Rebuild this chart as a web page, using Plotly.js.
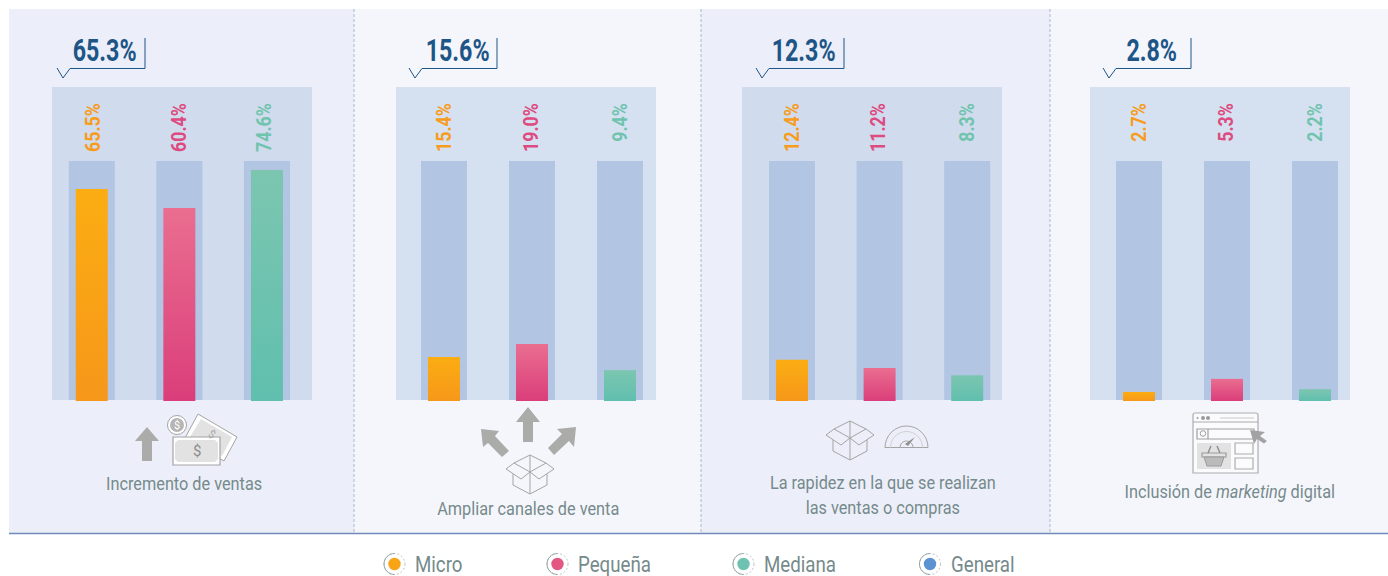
<!DOCTYPE html>
<html><head><meta charset="utf-8">
<script src="https://cdn.plot.ly/plotly-3.0.1.min.js"></script>
<style>html,body{margin:0;padding:0;background:#fff;overflow:hidden}#c{width:1388px;height:576px}</style>
</head><body><div id="c"></div>
<script>
// ---------- data ----------
const segments = ['Micro','Pequeña','Mediana'];
const generalLabels = ['65.3%','15.6%','12.3%','2.8%'];
const printedLabels = [
  ['65.5%','60.4%','74.6%'],
  ['15.4%','19.0%','9.4%'],
  ['12.4%','11.2%','8.3%'],
  ['2.7%','5.3%','2.2%']
];
// bar lengths (the drawn bars are not strictly proportional to their printed labels)
const barLengths1 = [68.0, 61.9, 74.1];
const barLengths2 = [14.1, 18.3, 9.9];
const barLengths3 = [13.2, 10.6, 8.3];
const barLengths4 = [2.9, 7.1, 3.8];
const fullBar = [77, 77, 77];
const categoryNames = ['Incremento de ventas','Ampliar canales de venta','La rapidez en la que se realizan<br>las ventas o compras','Inclusión de <i>marketing</i> digital'];
const legendNames = ['Micro','Pequeña','Mediana','General'];

// ---------- layout constants (pixels) ----------
const W=1388,H=576;
const px=x=>x/W, py=y=>1-y/H;
const colors=['#f9a415','#e25883','#6ec2af'];
const textColors=['#f79c1d','#dd4b80','#70c4ae'];
const grey='#758a8b', navy='#1d5587', icon='#abaca9', line='#a4a4a4';
const panels=[
 {x0:9,x1:354,bg:'#eceff9',rect:[52,312],rectc:'#d0dbed',c0:91.75,step:87.6,lab:[93,179,264],tail:57,right:145,tx:105},
 {x0:354,x1:701,bg:'#f5f6fc',rect:[396,656],rectc:'#d5e1f1',c0:444,step:88,lab:[444,531,620],tail:409,right:497,tx:457},
 {x0:701,x1:1050,bg:'#eceff9',rect:[742,1002],rectc:'#d0dbed',c0:792,step:87.6,lab:[792,878,967],tail:756,right:844,tx:803.5},
 {x0:1050,x1:1388,bg:'#f5f6fc',rect:[1090,1350],rectc:'#d5e1f1',c0:1139,step:88,lab:[1139,1226,1315],tail:1103,right:1191,tx:1151}
];
const lengths=[barLengths1,barLengths2,barLengths3,barLengths4];
const Y0=401, YTOP=161;

// convert a pixel path (absolute M/L/C/Q/Z) to paper coords
function P(d){return d.replace(/(-?[\d.]+)[ ,](-?[\d.]+)/g,(m,a,b)=>px(+a).toFixed(5)+','+py(+b).toFixed(5));}
const shapes=[];
function path(d,fill,lc,lw,extra){shapes.push(Object.assign({type:'path',xref:'paper',yref:'paper',layer:'below',path:P(d),fillcolor:fill||'rgba(0,0,0,0)',line:{color:lc||'rgba(0,0,0,0)',width:lw===undefined?0:lw}},extra||{}));}
function rect(x0,y0,x1,y1,fill,lc,lw){shapes.push({type:'rect',xref:'paper',yref:'paper',layer:'below',x0:px(x0),x1:px(x1),y0:py(y0),y1:py(y1),fillcolor:fill||'rgba(0,0,0,0)',line:{color:lc||'rgba(0,0,0,0)',width:lw||0}});}
function circ(cx,cy,r,fill,lc,lw,dash){shapes.push({type:'circle',xref:'paper',yref:'paper',layer:'below',x0:px(cx-r),x1:px(cx+r),y0:py(cy+r),y1:py(cy-r),fillcolor:fill||'rgba(0,0,0,0)',line:{color:lc||'rgba(0,0,0,0)',width:lw||0,dash:dash||'solid'}});}
function halfArc(cx,cy,r,side){
  const k=.5523*r;
  if(side==='top')return `M${cx-r} ${cy}C${cx-r} ${cy-k} ${cx-k} ${cy-r} ${cx} ${cy-r}C${cx+k} ${cy-r} ${cx+r} ${cy-k} ${cx+r} ${cy}`;
  return `M${cx} ${cy-r}C${cx-k} ${cy-r} ${cx-r} ${cy-k} ${cx-r} ${cy}C${cx-r} ${cy+k} ${cx-k} ${cy+r} ${cx} ${cy+r}`;
}
const annotations=[], condense=[];
const FAM='Roboto,sans-serif';
// cond = horizontal condensing factor (the source uses a condensed face); mode: 'c' centre, 'l' left, 't' rotated, top aligned
function txt(x,y,t,size,color,cond,mode,opts){
  annotations.push(Object.assign({xref:'paper',yref:'paper',x:px(x),y:py(y),text:t,showarrow:false,font:{family:FAM,size:size,color:color},xanchor:mode==='l'?'left':'center',yanchor:'middle',align:'center'},opts||{}));
  condense.push({s:cond||1,mode:mode||'c'});
}

// panels
panels.forEach((p,i)=>{
  rect(p.x0,9,p.x1,533,p.bg);
  rect(p.rect[0],87,p.rect[1],400,p.rectc);
});
[354,701,1050].forEach(x=>shapes.push({type:'line',xref:'paper',yref:'paper',layer:'below',x0:px(x),x1:px(x),y0:py(9),y1:py(533),line:{color:'#aab7c9',width:1,dash:'3px,2px'}}));
shapes.push({type:'line',xref:'paper',yref:'paper',layer:'below',x0:px(9),x1:px(1388),y0:py(533.5),y1:py(533.5),line:{color:'#6f8abb',width:1.3}});

// callouts
panels.forEach((p,i)=>{
  const r=p.right,t=p.tail;
  path(`M${r} 38L${r} 68.5L${t+13} 68.5L${t+6} 78L${t} 68`,null,navy,1);
  txt(p.tx,50.5,generalLabels[i],31,navy,.75,'c',{font:{family:FAM,size:31,color:navy,weight:700}});
});

// traces
const data=[], layout={width:W,height:H,margin:{l:0,r:0,t:0,b:0},paper_bgcolor:'#fff',plot_bgcolor:'rgba(0,0,0,0)',barmode:'overlay',showlegend:false,shapes,annotations,font:{family:FAM}};
panels.forEach((p,i)=>{
  const s=i?String(i+1):'', STEP=p.step;
  const left=p.c0-STEP/2, right=p.c0+2.5*STEP;
  layout['xaxis'+s]={domain:[px(left),px(right)],type:'category',categoryorder:'array',categoryarray:segments,range:[-.5,2.5],visible:false,fixedrange:true,anchor:'y'+s};
  layout['yaxis'+s]={domain:[py(Y0),py(YTOP)],range:[0,77],visible:false,fixedrange:true,anchor:'x'+s};
  data.push({type:'bar',x:segments,y:fullBar,width:46/STEP,base:0.3,xaxis:'x'+s,yaxis:'y'+s,marker:{color:'#b2c5e2',line:{width:0}},hoverinfo:'skip'});
  data.push({type:'bar',x:segments,y:lengths[i],width:32/STEP,xaxis:'x'+s,yaxis:'y'+s,marker:{color:colors,line:{width:0}},hoverinfo:'skip'});
  printedLabels[i].forEach((t,j)=>txt(p.lab[j],127,t,21,textColors[j],.845,'t',{textangle:-90,font:{family:FAM,size:21,color:textColors[j],weight:700}}));
});

// category labels
txt(184,483,categoryNames[0],19,grey,.857);
txt(528,508,categoryNames[1],19,grey,.857);
txt(883,495.3,categoryNames[2],19,grey,.857);
txt(1230,491,categoryNames[3],19,grey,.857);

// legend
const legX=[394.5,557.5,743.5,930], legC=['#f9a415','#e25883','#6ec2af','#5a92d2'];
legendNames.forEach((n,i)=>{
  const x=legX[i],y=564;
  circ(x,y,10.5,'rgba(0,0,0,0)','#a8b0b4',0.8,'2px,2px');
  path(halfArc(x,y,10.5,-1),null,'#96a3a6',1);
  circ(x,y,6.2,legC[i]);
  txt(x+18.5,564.5,n,21.5,grey,.87,'l');
});

// ---------- icons ----------
// panel 1 : arrow + money
path('M147 427L159 441L152 441L152 461L142 461L142 441L135 441Z',icon);
path('M198 414L237 437L224 461L185 438Z','#fff',line,1);
path('M201 419L232 437L222 456L190 437Z','#e2e2e2');
circ(177,425,9.5,'#fff',line,1);
circ(177,425,7,'#b5b5b5');
txt(177,425,'$',11,'#fff');
rect(173,437,220,465,'#fff',line,1.2);
path('M178 440L215 440L218 443L218 459L215 462L178 462L175 459L175 443Z','#e2e2e2');
txt(196.5,451,'$',15,'#8d8d8d');
txt(212,434,'$',11,'#a9a9a9',1,'c',{textangle:30});
// panel 2 : three arrows + box
path('M528 407L540 422L533 422L533 442L523 442L523 422L516 422Z',icon);
path('M481 429L499 431L495 436L509 451L502 457L488 443L483 447Z',icon);
path('M576 427L574 447L569 441L554 455L548 448L562 434L557 429Z',icon);
function box(cx,top){
  const L=(a,b)=>`${cx+a} ${top+b}`;
  path(`M${L(0,0)}L${L(-16,8)}L${L(0,17)}L${L(16,8)}Z`,null,line,1);
  path(`M${L(-16,8)}L${L(-24,14)}L${L(-9,24)}L${L(0,17)}L${L(9,24)}L${L(24,14)}L${L(16,8)}`,null,line,1);
  path(`M${L(-17,19)}L${L(-17,30)}L${L(0,39)}L${L(17,30)}L${L(17,19)}`,null,line,1);
  path(`M${L(0,0)}L${L(0,39)}`,null,line,1);
}
box(530,455);
// panel 3 : box + gauge
box(850,421);
path(halfArc(906.5,447.5,21.5,'top')+'Z',null,line,1);
path(halfArc(906.5,447.5,16,'top'),null,'#d0d0d0',1);
path(halfArc(906.5,447.5,6.5,'top')+'Z',null,line,1);
path('M905 444L915 437L908 446Z','#8f8f8f');
// panel 4 : browser
path('M1195 413L1256 413Q1258 413 1258 415L1258 473L1193 473L1193 415Q1193 413 1195 413Z','rgba(255,255,255,0.55)','#acacac',1.2);
path('M1193 422L1258 422',null,'#acacac',1.2);
circ(1197.5,418,1,'#9a9a9a');circ(1203,418,2,'#9a9a9a');circ(1208,418,2,'#9a9a9a');
rect(1220,417,1254,419,'#e2e2e2');
rect(1197,429,1254,439,'rgba(0,0,0,0)','#a0a0a0',1.2);
path('M1208 429L1208 439',null,'#a0a0a0',1.2);
circ(1203,433.5,2.8,null,'#a0a0a0',1);
rect(1197,443,1231,469,'#e2e2e2');
rect(1235,443,1253,454,'rgba(0,0,0,0)','#acacac',1.2);
rect(1235,458,1253,469,'rgba(0,0,0,0)','#acacac',1.2);
path('M1250 430L1265 432L1260 436L1267 441L1264 443.5L1257 439L1254 444Z','#a2a2a2');
path('M1202 453L1226 453L1226 457L1202 457Z',null,'#9a9a9a',1.2);
path('M1204 457L1207 466L1221 466L1224 457Z','#bbbbbb','#9a9a9a',1);
path('M1208 453L1211 446M1220 453L1217 446',null,'#8c8c8c',1.4);

Plotly.newPlot('c',data,layout,{staticPlot:true,displayModeBar:false}).then(gd=>{
  // vertical gradients on the coloured bars
  const svg=gd.querySelector('.main-svg'), NS='http://www.w3.org/2000/svg';
  const grads={'rgb(249, 164, 21)':['#fbad12','#f6971a','gM'],'rgb(226, 88, 131)':['#ea6e90','#da3e7a','gP'],'rgb(110, 194, 175)':['#7cc6b0','#60bfae','gG']};
  let defs=svg.querySelector('defs'); if(!defs){defs=document.createElementNS(NS,'defs');svg.insertBefore(defs,svg.firstChild);}
  Object.values(grads).forEach(g=>{
    const lg=document.createElementNS(NS,'linearGradient');
    lg.setAttribute('id',g[2]);lg.setAttribute('x1','0');lg.setAttribute('y1','0');lg.setAttribute('x2','0');lg.setAttribute('y2','1');
    [[0,g[0]],[1,g[1]]].forEach(s=>{const st=document.createElementNS(NS,'stop');st.setAttribute('offset',s[0]);st.setAttribute('stop-color',s[1]);lg.appendChild(st);});
    defs.appendChild(lg);
  });
  gd.querySelectorAll('.barlayer .point path').forEach(p=>{
    const g=grads[p.style.fill]; if(g)p.style.fill='url(#'+g[2]+')';
  });
  // condense the annotation text horizontally (no condensed face is installed)
  gd.querySelectorAll('.annotation').forEach(a=>{
    const c=condense[+a.getAttribute('data-index')], t=a.querySelector('text.annotation-text');
    if(!c||!t||c.s===1)return;
    const b=t.getBBox();
    let pivot=b.x+b.width/2, shift=0;
    if(c.mode==='l')pivot=b.x;
    if(c.mode==='t')shift=24-b.width*c.s/2; // keep the top ends of the rotated labels aligned
    t.setAttribute('transform',`translate(${pivot+shift},0) scale(${c.s},1) translate(${-pivot},0)`);
  });
});
</script></body></html>
